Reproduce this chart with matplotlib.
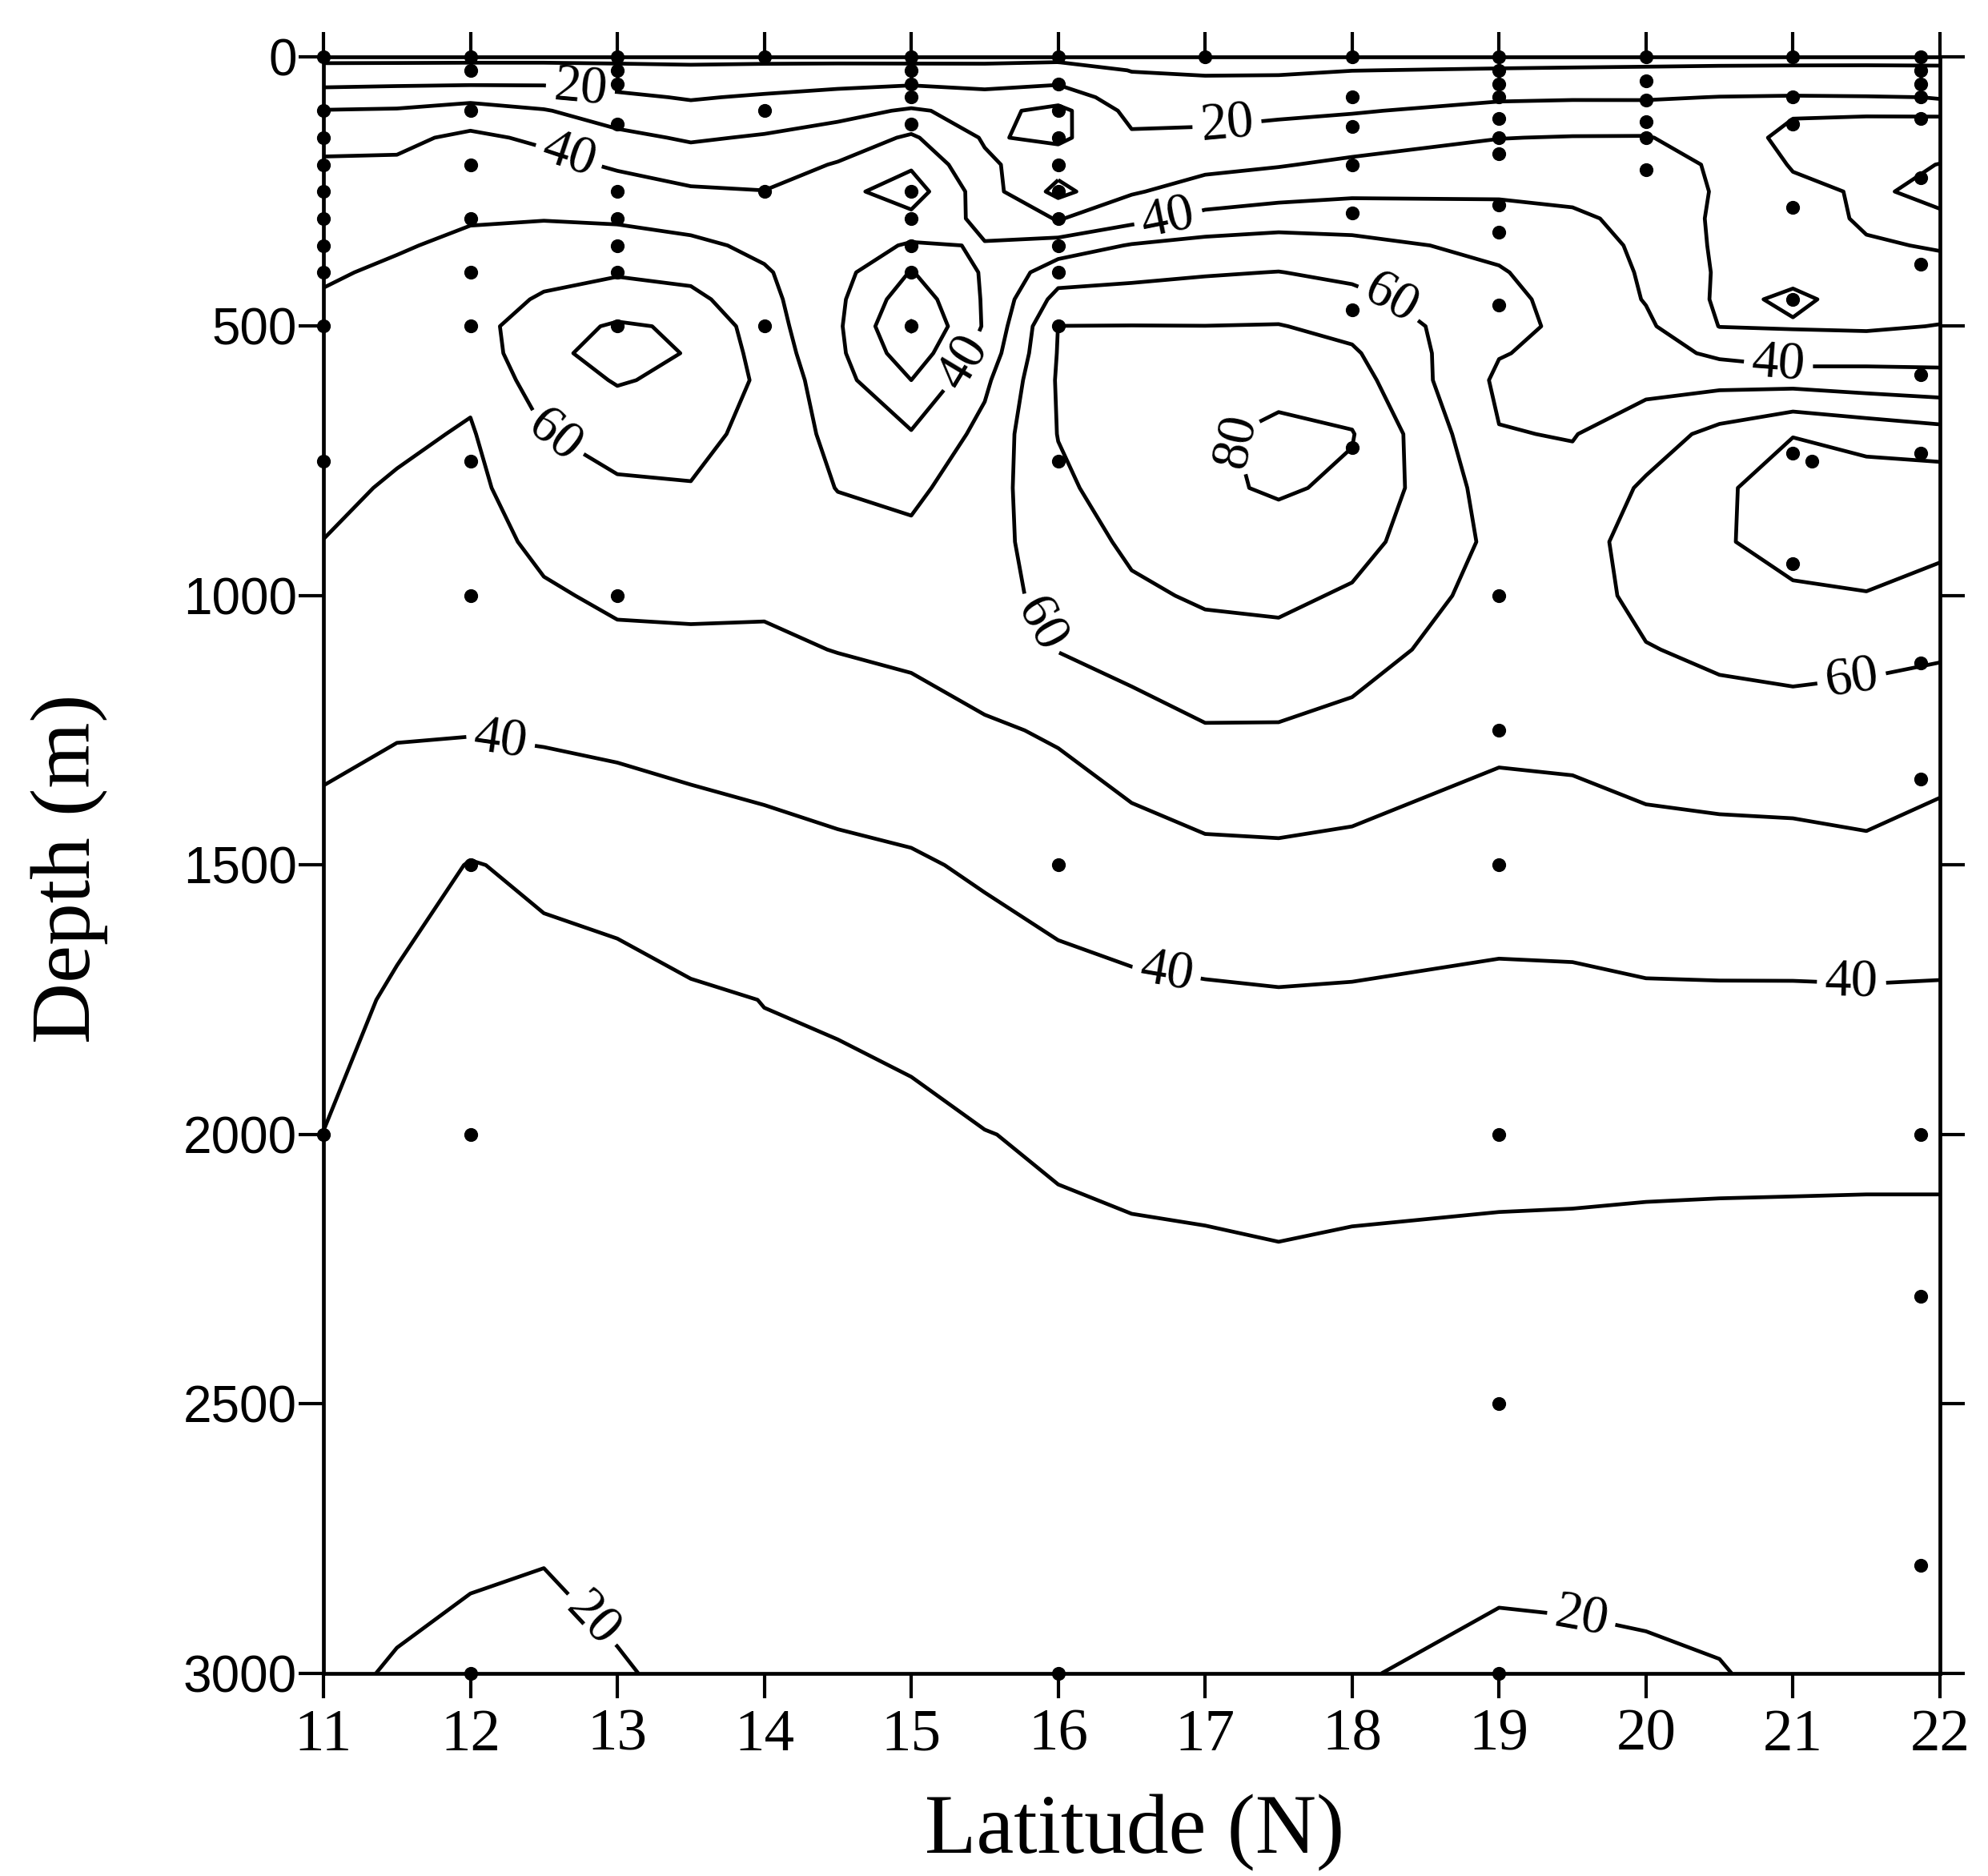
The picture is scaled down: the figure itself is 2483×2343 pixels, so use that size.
import numpy as np
import matplotlib
matplotlib.use("Agg")
import matplotlib.pyplot as plt

# grid of the section: depth rows (m) and latitude columns (N)
depth = [0, 25, 50, 75, 100, 150, 200, 250, 300, 350, 400, 450, 500, 550, 600,
         700, 800, 900, 1000, 1100, 1250, 1500, 1750, 2000, 2250, 2500, 2750, 3000]
lat = [11, 11.5, 12, 12.5, 13, 13.5, 14, 14.5, 15, 15.5, 16, 16.5, 17, 17.5,
       18, 19, 19.5, 20, 20.5, 21, 21.5, 22]

c11 = [7, 13.4, 18.4, 24.4, 30.4, 37.2, 41.2, 43.2, 45.2, 47.2, 49.2, 50.6, 51.7, 52.8, 53.9,
       54.0, 51.9, 49.9, 47.6, 45.3, 41.8, 37.4, 33.6, 29.9, 27.7, 25.4, 23.2, 21.0]
c11_5 = [7, 13.6, 19.0, 24.9, 31.0, 38.1, 41.1, 43.9, 46.7, 49.4, 51.1, 53.1, 54.1, 55.0, 54.0,
         51.6, 49.1, 47.3, 45.5, 43.6, 40.6, 34.1, 28.6, 26.8, 25.1, 23.4, 21.7, 19.6]
c12 = [7, 13.9, 19.3, 26.5, 34.8, 41.8, 44.4, 46.9, 49.5, 51.4, 53.2, 54.9, 55.3, 53.5, 51.8,
       49.2, 47.6, 46.0, 44.5, 42.9, 40.5, 29.6, 28.2, 26.6, 24.8, 22.9, 21.1, 18.4]
c12_5 = [7, 13.9, 19.3, 25.1, 30.6, 38.4, 42.8, 46.2, 49.7, 53.3, 57.0, 61.2, 67.0, 68.0, 65.0,
         59.6, 55.9, 52.2, 48.8, 45.8, 41.2, 31.5, 27.3, 26.0, 24.4, 22.6, 20.7, 17.5]
c13 = [7, 13.0, 17.5, 21.6, 25.3, 32.3, 38.8, 44.0, 48.9, 53.9, 58.9, 65.7, 70.9, 73.0, 70.7,
       64.1, 58.6, 55.1, 51.6, 48.0, 42.2, 33.0, 27.5, 26.6, 25.0, 23.4, 21.6, 19.6]
c13_5 = [7, 12.1, 15.7, 19.3, 22.5, 28.9, 35.1, 41.2, 46.7, 52.0, 57.1, 62.8, 69.0, 69.5, 68.0,
         63.5, 59.5, 55.7, 51.9, 48.3, 43.1, 35.4, 29.0, 27.6, 26.1, 24.4, 22.7, 21.0]
c14 = [7, 12.8, 17.0, 21.0, 24.4, 30.9, 35.6, 40.2, 44.1, 48.0, 50.9, 52.7, 54.4, 56.2, 58.0,
       56.3, 54.5, 52.8, 51.1, 48.8, 44.1, 36.7, 30.1, 28.4, 26.8, 25.2, 23.6, 22.0]
c14_5 = [7, 13.1, 18.3, 22.8, 27.0, 34.3, 40.7, 47.0, 45.6, 45.0, 43.5, 42.0, 41.5, 42.0, 43.5,
         47.4, 49.8, 52.6, 52.7, 50.2, 45.5, 38.0, 30.5, 28.8, 27.1, 25.4, 23.7, 22.0]
c15 = [7, 13.0, 19.3, 25.2, 31.1, 41.4, 48.6, 55.0, 47.5, 38.9, 29.5, 24.0, 19.0, 24.0, 30.0,
       40.8, 48.1, 51.8, 53.8, 51.3, 46.8, 39.0, 32.0, 28.5, 27.2, 25.5, 23.8, 22.0]
c15_5 = [7, 12.9, 18.8, 21.7, 27.0, 29.0, 31.7, 34.6, 37.4, 40.5, 41.0, 41.0, 41.0, 44.0, 48.0,
         53.0, 55.0, 56.5, 57.0, 55.0, 48.8, 41.2, 35.3, 29.8, 27.8, 25.8, 23.9, 22.0]
c16 = [8, 13.1, 19.5, 25.5, 33.0, 32.0, 24.0, 17.0, 29.4, 44.4, 55.5, 63.2, 70.1, 70.5, 71.0,
       70.3, 68.1, 65.0, 62.5, 60.3, 51.0, 43.4, 37.3, 31.0, 28.3, 26.3, 24.2, 22.0]
c16_5 = [7, 9.8, 11.7, 14.7, 17.0, 21.4, 25.2, 29.1, 36.8, 50.7, 57.5, 63.9, 70.2, 71.2, 72.4,
         74.8, 74.6, 71.8, 68.4, 63.7, 55.6, 45.2, 38.3, 32.0, 28.6, 26.5, 24.3, 22.0]
c17 = [7, 9.0, 11.5, 14.1, 16.8, 22.2, 27.6, 34.0, 42.9, 53.4, 59.2, 64.6, 70.1, 72.0, 74.0,
       78.5, 78.5, 74.2, 71.1, 66.8, 59.3, 47.2, 38.7, 32.5, 28.8, 26.6, 24.4, 22.0]
c17_5 = [7, 9.0, 11.8, 14.9, 18.1, 23.9, 29.4, 36.0, 45.7, 54.1, 60.2, 65.3, 70.4, 74.0, 76.8,
         82.2, 81.0, 76.4, 72.0, 67.1, 59.2, 47.7, 39.2, 33.9, 29.0, 26.4, 23.7, 21.0]
c18 = [7, 9.9, 13.0, 16.1, 19.3, 25.5, 31.8, 38.1, 45.8, 52.6, 57.9, 62.7, 67.3, 71.3, 74.4,
       80.5, 78.5, 73.7, 68.8, 64.0, 57.2, 47.1, 38.9, 33.0, 28.6, 26.0, 23.4, 20.5]
c19 = [7, 10.5, 14.7, 18.8, 22.6, 29.8, 34.3, 38.7, 43.2, 47.7, 50.8, 52.4, 52.7, 50.5, 48.2,
       50.4, 54.9, 57.5, 55.9, 54.2, 51.9, 45.0, 37.8, 32.3, 28.3, 25.2, 22.1, 18.0]
c19_5 = [7, 10.8, 15.0, 19.2, 23.1, 30.4, 34.5, 38.3, 41.2, 43.4, 45.2, 47.0, 48.0, 47.5, 47.5,
         49.6, 52.5, 55.0, 55.3, 54.4, 52.3, 45.4, 37.9, 32.2, 28.2, 25.1, 22.0, 18.5]
c20 = [7, 11.1, 15.2, 19.2, 23.0, 30.5, 33.0, 36.0, 38.0, 38.5, 39.0, 39.5, 41.7, 44.4, 47.2,
       55.0, 61.5, 65.0, 63.0, 59.5, 54.5, 46.3, 38.8, 32.0, 28.0, 25.6, 22.2, 19.0]
c20_5 = [7, 11.5, 15.7, 20.2, 22.0, 26.0, 29.0, 29.0, 28.0, 28.3, 28.8, 28.5, 29.8, 38.0, 47.0,
         63.0, 69.0, 69.0, 66.0, 62.0, 55.6, 46.6, 38.9, 31.8, 28.0, 25.7, 22.5, 19.7]
c21 = [7, 11.7, 16.3, 20.5, 21.3, 16.9, 19.2, 22.2, 25.0, 27.0, 28.5, 31.0, 29.5, 34.0, 46.3,
       69.8, 73.0, 73.5, 68.6, 63.2, 56.2, 46.7, 38.9, 31.7, 28.0, 26.0, 23.8, 21.5]
c21_5 = [7, 11.8, 16.2, 20.3, 20.8, 17.0, 18.5, 19.0, 18.5, 21.0, 23.5, 28.0, 28.8, 35.5, 44.7,
         66.4, 75.0, 74.5, 69.6, 62.3, 55.6, 48.1, 38.9, 31.6, 28.0, 26.1, 24.1, 22.0]
c22 = [7, 11.6, 15.6, 19.9, 20.7, 17.5, 20.1, 21.6, 19.1, 19.3, 22.7, 26.4, 30.3, 36.0, 43.5,
       63.6, 76.0, 72.0, 66.8, 61.1, 54.2, 45.8, 39.0, 31.6, 28.0, 26.3, 24.2, 22.0]

plain_levels = [10, 30, 50, 70]
labelled_levels = [20, 40, 60, 80]

# sampling depths at each station
s11 = [0, 100, 150, 200, 250, 300, 350, 400, 500, 750, 2000]
s12 = [0, 25, 100, 200, 300, 400, 500, 750, 1000, 1500, 2000, 3000]
s13 = [0, 25, 50, 125, 250, 300, 350, 400, 500, 1000]
s14 = [0, 100, 250, 500]
s15 = [0, 25, 50, 75, 125, 250, 300, 350, 400, 500]
s16 = [0, 50, 100, 150, 200, 250, 300, 350, 400, 500, 750, 1500, 3000]
s17 = [0]
s18 = [0, 75, 130, 200, 290, 470, 725]
s19 = [0, 25, 50, 75, 115, 150, 180, 275, 325, 460, 1000, 1250, 1500, 2000, 2500, 3000]
s20 = [0, 45, 80, 120, 150, 210]
s21 = [0, 75, 125, 280, 450, 735, 940]
s21b = [750]
s22 = [0, 25, 50, 75, 115, 225, 385, 590, 735, 1125, 1340, 2000, 2300, 2800]
station_lat = [11, 12, 13, 14, 15, 16, 17, 18, 19, 20, 21, 21.13, 21.87]
station_depths = [s11, s12, s13, s14, s15, s16, s17, s18, s19, s20, s21, s21b, s22]

# where the contour labels sit
label_pos = [(12.75, 55), (12.65, 200), (17.15, 130), (16.75, 300), (12.6, 690),
             (15.35, 565), (17.25, 710), (18.3, 430), (20.9, 575), (15.9, 1050),
             (21.4, 1155), (12.2, 1280), (16.75, 1680), (21.4, 1710),
             (12.75, 2920), (19.55, 2910)]

plt.rcParams['font.family'] = ['Liberation Serif', 'DejaVu Serif']

fig = plt.figure(figsize=(24.83, 23.43), dpi=100)
ax = fig.add_axes([0.1627, 0.108, 0.8131, 0.8617])

Z = np.array([c11, c11_5, c12, c12_5, c13, c13_5, c14, c14_5, c15, c15_5, c16, c16_5,
              c17, c17_5, c18, c19, c19_5, c20, c20_5, c21, c21_5, c22]).T
ax.contour(lat, depth, Z, levels=plain_levels, colors='k', linewidths=3.4)
cs = ax.contour(lat, depth, Z, levels=labelled_levels, colors='k', linewidths=3.4)

ax.set_xlim(11, 22)
ax.set_ylim(3000, 0)

ax.clabel(cs, manual=label_pos, fmt='%1.0f', fontsize=48, inline=True, inline_spacing=10)

for la, ds in zip(station_lat, station_depths):
    ax.scatter([la] * len(ds), ds, s=130, color='k', zorder=3, clip_on=False)

ax.set_xticks(range(11, 23))
ax.set_yticks(range(0, 3001, 500))
ax.tick_params(which='both', direction='out', length=22, width=3,
               top=True, right=True, labeltop=False, labelright=False)
ax.tick_params(axis='x', labelsize=54, pad=10)
ax.tick_params(axis='y', labelsize=46, pad=2)
plt.setp(ax.get_yticklabels(), family='Liberation Sans')
for sp in ax.spines.values():
    sp.set_linewidth(3.4)

fig.text(0.5707, 0.023, 'Latitude (N)', fontsize=76, ha='center', va='center')
fig.text(0.035, 0.537, 'Depth (m)', fontsize=76, ha='center', va='center', rotation=90)

fig.savefig('out.png', dpi=100)
